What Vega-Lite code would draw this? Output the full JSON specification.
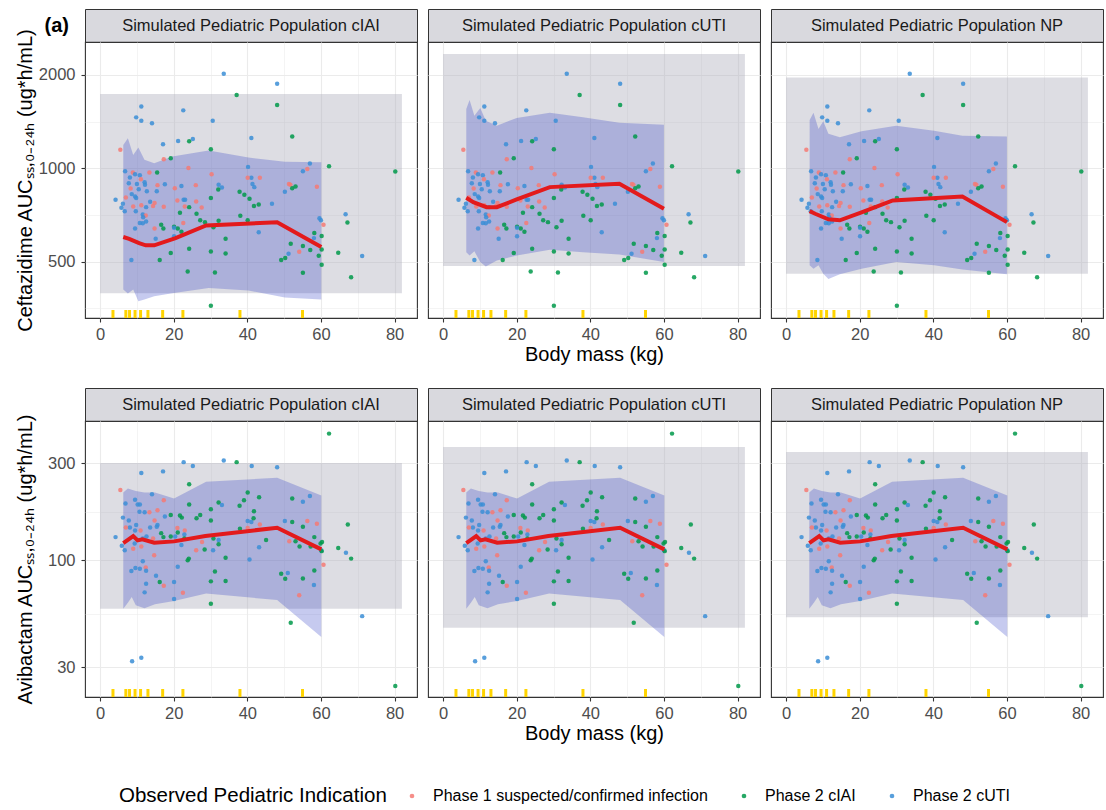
{
"$schema": "https://vega.github.io/schema/vega-lite/v6.json",
"padding": {"left": 14, "top": 8, "right": 0, "bottom": 0},
"background": "white",
"datasets": {
"rectC": [{"pop":"cIAI","x0":0,"x1":82,"lo":395,"hi":1735},{"pop":"cUTI","x0":0,"x1":82,"lo":484,"hi":2335},{"pop":"NP","x0":0,"x1":82,"lo":457,"hi":1963}],
"rectA": [{"pop":"cIAI","x0":0,"x1":82,"lo":57.9,"hi":300},{"pop":"cUTI","x0":0,"x1":82,"lo":46.8,"hi":359},{"pop":"NP","x0":0,"x1":82,"lo":52.7,"hi":340}],
"bandC": [
{"pop":"cIAI","kg":6.3,"lo":406,"hi":1189},{"pop":"cIAI","kg":7.55,"lo":394,"hi":1249},{"pop":"cIAI","kg":9.0,"lo":406,"hi":1104},{"pop":"cIAI","kg":10.4,"lo":372,"hi":1166},{"pop":"cIAI","kg":12.05,"lo":377,"hi":1064},{"pop":"cIAI","kg":14.7,"lo":386,"hi":1038},{"pop":"cIAI","kg":19.6,"lo":395,"hi":1090},{"pop":"cIAI","kg":29.5,"lo":411,"hi":1140},{"pop":"cIAI","kg":40.3,"lo":403,"hi":1082},{"pop":"cIAI","kg":50.2,"lo":383,"hi":1050},{"pop":"cIAI","kg":60.1,"lo":377,"hi":1045},
{"pop":"cUTI","kg":6.3,"lo":536,"hi":1553},{"pop":"cUTI","kg":7.2,"lo":523,"hi":1660},{"pop":"cUTI","kg":8.5,"lo":540,"hi":1478},{"pop":"cUTI","kg":10.1,"lo":498,"hi":1565},{"pop":"cUTI","kg":11.6,"lo":482,"hi":1424},{"pop":"cUTI","kg":14.6,"lo":504,"hi":1372},{"pop":"cUTI","kg":20.0,"lo":523,"hi":1453},{"pop":"cUTI","kg":29.0,"lo":546,"hi":1511},{"pop":"cUTI","kg":38.0,"lo":536,"hi":1460},{"pop":"cUTI","kg":47.9,"lo":527,"hi":1403},{"pop":"cUTI","kg":60.0,"lo":498,"hi":1382},
{"pop":"NP","kg":6.4,"lo":486,"hi":1432},{"pop":"NP","kg":7.45,"lo":474,"hi":1511},{"pop":"NP","kg":8.8,"lo":486,"hi":1339},{"pop":"NP","kg":10.1,"lo":457,"hi":1417},{"pop":"NP","kg":11.5,"lo":439,"hi":1291},{"pop":"NP","kg":14.6,"lo":455,"hi":1258},{"pop":"NP","kg":20.5,"lo":474,"hi":1316},{"pop":"NP","kg":29.9,"lo":498,"hi":1372},{"pop":"NP","kg":40.2,"lo":486,"hi":1322},{"pop":"NP","kg":47.9,"lo":471,"hi":1274},{"pop":"NP","kg":60.0,"lo":455,"hi":1265}],
"medC": [
{"pop":"cIAI","kg":6.3,"med":600},{"pop":"cIAI","kg":7.9,"med":592},{"pop":"cIAI","kg":10.6,"med":573},{"pop":"cIAI","kg":12.4,"med":564},{"pop":"cIAI","kg":14.7,"med":564},{"pop":"cIAI","kg":20.5,"med":595},{"pop":"cIAI","kg":28.8,"med":654},{"pop":"cIAI","kg":48.1,"med":669},{"pop":"cIAI","kg":60.1,"med":557},
{"pop":"cUTI","kg":6.3,"med":803},{"pop":"cUTI","kg":8.2,"med":777},{"pop":"cUTI","kg":11.8,"med":749},{"pop":"cUTI","kg":14.6,"med":749},{"pop":"cUTI","kg":20.0,"med":793},{"pop":"cUTI","kg":29.0,"med":869},{"pop":"cUTI","kg":47.9,"med":891},{"pop":"cUTI","kg":60.0,"med":740},
{"pop":"NP","kg":6.4,"med":727},{"pop":"NP","kg":7.9,"med":713},{"pop":"NP","kg":11.5,"med":684},{"pop":"NP","kg":14.6,"med":679},{"pop":"NP","kg":20.5,"med":721},{"pop":"NP","kg":29.0,"med":787},{"pop":"NP","kg":47.9,"med":811},{"pop":"NP","kg":60.0,"med":670}],
"bandA": [{"kg":6.3,"lo":57.9,"hi":215},{"kg":7.55,"lo":62.0,"hi":225},{"kg":8.6,"lo":66.1,"hi":222},{"kg":9.7,"lo":60.2,"hi":219},{"kg":12.05,"lo":58.2,"hi":215},{"kg":14.9,"lo":60.9,"hi":215},{"kg":20.1,"lo":63.2,"hi":201},{"kg":28.8,"lo":68.9,"hi":243},{"kg":48.1,"lo":63.9,"hi":254},{"kg":60.1,"lo":42.1,"hi":208}],
"medA": [{"kg":6.3,"med":121.6},{"kg":9.0,"med":131.6},{"kg":10.2,"med":125.3},{"kg":11.5,"med":126.7},{"kg":14.7,"med":122.1},{"kg":20.1,"med":123.9},{"kg":28.6,"med":131.6},{"kg":48.1,"med":144.6},{"kg":60.1,"med":113.2}],
"rug": [{"kg":3.5},{"kg":7},{"kg":8},{"kg":9.5},{"kg":11},{"kg":13},{"kg":17},{"kg":22.5},{"kg":38},{"kg":55}],
"obsC": [
{"kg":33.6,"auc":2017,"ind":"Phase 2 cUTI"},{"kg":48.1,"auc":1873,"ind":"Phase 2 cUTI"},{"kg":37.1,"auc":1722,"ind":"Phase 2 cIAI"},{"kg":48.1,"auc":1599,"ind":"Phase 2 cIAI"},{"kg":11.2,"auc":1583,"ind":"Phase 2 cUTI"},{"kg":22.6,"auc":1537,"ind":"Phase 2 cUTI"},{"kg":9.8,"auc":1459,"ind":"Phase 2 cUTI"},{"kg":11.2,"auc":1424,"ind":"Phase 2 cUTI"},{"kg":14.1,"auc":1396,"ind":"Phase 2 cUTI"},{"kg":30.6,"auc":1424,"ind":"Phase 2 cUTI"},
{"kg":52.2,"auc":1265,"ind":"Phase 2 cIAI"},{"kg":41.1,"auc":1252,"ind":"Phase 2 cUTI"},{"kg":21.2,"auc":1225,"ind":"Phase 2 cUTI"},{"kg":24.2,"auc":1222,"ind":"Phase 2 cIAI"},{"kg":25.2,"auc":1243,"ind":"Phase 2 cUTI"},{"kg":17.1,"auc":1195,"ind":"Phase 2 cUTI"},{"kg":5.5,"auc":1148,"ind":"Phase 1 suspected/confirmed infection"},{"kg":30.1,"auc":1151,"ind":"Phase 2 cIAI"},{"kg":19.2,"auc":1077,"ind":"Phase 2 cIAI"},{"kg":17.3,"auc":1069,"ind":"Phase 1 suspected/confirmed infection"},
{"kg":57.0,"auc":1035,"ind":"Phase 2 cUTI"},{"kg":62.2,"auc":1015,"ind":"Phase 2 cIAI"},{"kg":40.2,"auc":1010,"ind":"Phase 2 cUTI"},{"kg":56.3,"auc":995,"ind":"Phase 1 suspected/confirmed infection"},{"kg":55.1,"auc":978,"ind":"Phase 2 cUTI"},{"kg":80.2,"auc":976,"ind":"Phase 2 cIAI"},{"kg":6.8,"auc":978,"ind":"Phase 2 cUTI"},{"kg":8.9,"auc":968,"ind":"Phase 1 suspected/confirmed infection"},{"kg":9.5,"auc":957,"ind":"Phase 2 cUTI"},{"kg":10.8,"auc":949,"ind":"Phase 2 cUTI"},
{"kg":13.4,"auc":968,"ind":"Phase 1 suspected/confirmed infection"},{"kg":15.5,"auc":968,"ind":"Phase 2 cIAI"},{"kg":24.0,"auc":1002,"ind":"Phase 1 suspected/confirmed infection"},{"kg":30.3,"auc":957,"ind":"Phase 1 suspected/confirmed infection"},{"kg":8.1,"auc":933,"ind":"Phase 2 cUTI"},{"kg":11.1,"auc":922,"ind":"Phase 1 suspected/confirmed infection"},{"kg":41.1,"auc":931,"ind":"Phase 2 cUTI"},{"kg":40.1,"auc":931,"ind":"Phase 1 suspected/confirmed infection"},{"kg":43.4,"auc":931,"ind":"Phase 1 suspected/confirmed infection"},{"kg":7.8,"auc":895,"ind":"Phase 2 cUTI"},
{"kg":10.0,"auc":890,"ind":"Phase 2 cUTI"},{"kg":12.1,"auc":901,"ind":"Phase 2 cUTI"},{"kg":12.2,"auc":884,"ind":"Phase 2 cUTI"},{"kg":15.6,"auc":882,"ind":"Phase 1 suspected/confirmed infection"},{"kg":17.6,"auc":888,"ind":"Phase 2 cUTI"},{"kg":22.1,"auc":877,"ind":"Phase 2 cUTI"},{"kg":26.0,"auc":882,"ind":"Phase 1 suspected/confirmed infection"},{"kg":32.2,"auc":884,"ind":"Phase 2 cUTI"},{"kg":33.1,"auc":866,"ind":"Phase 2 cUTI"},{"kg":41.4,"auc":890,"ind":"Phase 2 cUTI"},
{"kg":41.9,"auc":869,"ind":"Phase 2 cUTI"},{"kg":51.3,"auc":890,"ind":"Phase 1 suspected/confirmed infection"},{"kg":51.7,"auc":884,"ind":"Phase 1 suspected/confirmed infection"},{"kg":52.2,"auc":862,"ind":"Phase 2 cIAI"},{"kg":53.1,"auc":873,"ind":"Phase 2 cIAI"},{"kg":58.9,"auc":871,"ind":"Phase 1 suspected/confirmed infection"},{"kg":8.3,"auc":860,"ind":"Phase 1 suspected/confirmed infection"},{"kg":10.5,"auc":856,"ind":"Phase 2 cUTI"},{"kg":12.7,"auc":843,"ind":"Phase 2 cUTI"},{"kg":15.4,"auc":843,"ind":"Phase 2 cUTI"},
{"kg":20.3,"auc":862,"ind":"Phase 1 suspected/confirmed infection"},{"kg":32.1,"auc":854,"ind":"Phase 2 cIAI"},{"kg":37.9,"auc":839,"ind":"Phase 2 cIAI"},{"kg":39.2,"auc":821,"ind":"Phase 2 cIAI"},{"kg":40.6,"auc":797,"ind":"Phase 2 cIAI"},{"kg":50.2,"auc":839,"ind":"Phase 2 cUTI"},{"kg":8.6,"auc":825,"ind":"Phase 2 cUTI"},{"kg":9.5,"auc":811,"ind":"Phase 2 cUTI"},{"kg":9.8,"auc":801,"ind":"Phase 2 cUTI"},{"kg":7.0,"auc":805,"ind":"Phase 1 suspected/confirmed infection"},
{"kg":4.2,"auc":791,"ind":"Phase 2 cUTI"},{"kg":13.6,"auc":779,"ind":"Phase 2 cUTI"},{"kg":14.8,"auc":773,"ind":"Phase 1 suspected/confirmed infection"},{"kg":21.0,"auc":787,"ind":"Phase 1 suspected/confirmed infection"},{"kg":22.7,"auc":791,"ind":"Phase 2 cUTI"},{"kg":23.1,"auc":791,"ind":"Phase 2 cUTI"},{"kg":26.1,"auc":781,"ind":"Phase 1 suspected/confirmed infection"},{"kg":30.1,"auc":801,"ind":"Phase 2 cIAI"},{"kg":6.2,"auc":768,"ind":"Phase 2 cUTI"},{"kg":9.0,"auc":753,"ind":"Phase 1 suspected/confirmed infection"},
{"kg":11.2,"auc":760,"ind":"Phase 1 suspected/confirmed infection"},{"kg":12.5,"auc":749,"ind":"Phase 2 cUTI"},{"kg":14.4,"auc":755,"ind":"Phase 1 suspected/confirmed infection"},{"kg":17.3,"auc":751,"ind":"Phase 1 suspected/confirmed infection"},{"kg":23.0,"auc":753,"ind":"Phase 1 suspected/confirmed infection"},{"kg":24.2,"auc":749,"ind":"Phase 2 cIAI"},{"kg":27.6,"auc":747,"ind":"Phase 1 suspected/confirmed infection"},{"kg":5.8,"auc":746,"ind":"Phase 2 cUTI"},{"kg":6.7,"auc":727,"ind":"Phase 2 cUTI"},{"kg":9.7,"auc":727,"ind":"Phase 2 cUTI"},
{"kg":21.7,"auc":718,"ind":"Phase 2 cIAI"},{"kg":26.2,"auc":713,"ind":"Phase 2 cIAI"},{"kg":38.1,"auc":702,"ind":"Phase 2 cIAI"},{"kg":41.8,"auc":755,"ind":"Phase 2 cIAI"},{"kg":43.1,"auc":764,"ind":"Phase 2 cIAI"},{"kg":46.7,"auc":768,"ind":"Phase 2 cUTI"},{"kg":11.6,"auc":709,"ind":"Phase 2 cUTI"},{"kg":12.4,"auc":704,"ind":"Phase 1 suspected/confirmed infection"},{"kg":11.7,"auc":695,"ind":"Phase 2 cUTI"},{"kg":59.6,"auc":690,"ind":"Phase 2 cUTI"},
{"kg":60.0,"auc":679,"ind":"Phase 2 cUTI"},{"kg":32.2,"auc":677,"ind":"Phase 2 cIAI"},{"kg":28.5,"auc":670,"ind":"Phase 2 cIAI"},{"kg":27.2,"auc":679,"ind":"Phase 2 cIAI"},{"kg":40.1,"auc":679,"ind":"Phase 2 cIAI"},{"kg":66.7,"auc":711,"ind":"Phase 2 cUTI"},{"kg":67.2,"auc":668,"ind":"Phase 2 cIAI"},{"kg":60.7,"auc":657,"ind":"Phase 1 suspected/confirmed infection"},{"kg":12.5,"auc":673,"ind":"Phase 2 cUTI"},{"kg":11.6,"auc":665,"ind":"Phase 2 cUTI"},
{"kg":10.8,"auc":666,"ind":"Phase 2 cUTI"},{"kg":22.6,"auc":666,"ind":"Phase 1 suspected/confirmed infection"},{"kg":16.6,"auc":657,"ind":"Phase 2 cIAI"},{"kg":17.2,"auc":639,"ind":"Phase 2 cIAI"},{"kg":20.1,"auc":647,"ind":"Phase 2 cIAI"},{"kg":21.1,"auc":639,"ind":"Phase 2 cIAI"},{"kg":20.1,"auc":643,"ind":"Phase 2 cUTI"},{"kg":30.8,"auc":645,"ind":"Phase 2 cIAI"},{"kg":9.5,"auc":639,"ind":"Phase 2 cUTI"},{"kg":14.8,"auc":639,"ind":"Phase 1 suspected/confirmed infection"},
{"kg":22.1,"auc":624,"ind":"Phase 2 cIAI"},{"kg":43.1,"auc":621,"ind":"Phase 2 cUTI"},{"kg":58.2,"auc":618,"ind":"Phase 2 cIAI"},{"kg":60.2,"auc":604,"ind":"Phase 2 cIAI"},{"kg":58.1,"auc":595,"ind":"Phase 2 cUTI"},{"kg":34.1,"auc":592,"ind":"Phase 2 cIAI"},{"kg":15.1,"auc":592,"ind":"Phase 2 cUTI"},{"kg":20.1,"auc":603,"ind":"Phase 2 cUTI"},{"kg":51.8,"auc":571,"ind":"Phase 2 cIAI"},{"kg":55.1,"auc":561,"ind":"Phase 2 cIAI"},
{"kg":57.1,"auc":545,"ind":"Phase 2 cIAI"},{"kg":60.2,"auc":547,"ind":"Phase 2 cIAI"},{"kg":54.1,"auc":538,"ind":"Phase 1 suspected/confirmed infection"},{"kg":51.2,"auc":530,"ind":"Phase 2 cUTI"},{"kg":24.2,"auc":550,"ind":"Phase 2 cIAI"},{"kg":30.1,"auc":539,"ind":"Phase 2 cIAI"},{"kg":34.1,"auc":531,"ind":"Phase 2 cIAI"},{"kg":19.2,"auc":533,"ind":"Phase 2 cIAI"},{"kg":64.7,"auc":534,"ind":"Phase 2 cIAI"},{"kg":59.4,"auc":522,"ind":"Phase 2 cIAI"},
{"kg":71.2,"auc":521,"ind":"Phase 2 cUTI"},{"kg":8.5,"auc":506,"ind":"Phase 2 cUTI"},{"kg":16.2,"auc":506,"ind":"Phase 2 cIAI"},{"kg":49.2,"auc":506,"ind":"Phase 2 cIAI"},{"kg":50.3,"auc":513,"ind":"Phase 2 cIAI"},{"kg":60.2,"auc":488,"ind":"Phase 2 cIAI"},{"kg":23.8,"auc":464,"ind":"Phase 2 cIAI"},{"kg":31.2,"auc":461,"ind":"Phase 2 cIAI"},{"kg":55.1,"auc":460,"ind":"Phase 2 cIAI"},{"kg":68.2,"auc":445,"ind":"Phase 2 cIAI"},
{"kg":30.1,"auc":360,"ind":"Phase 2 cIAI"}],
"obsA": [
{"kg":62.2,"auc":418,"ind":"Phase 2 cIAI"},{"kg":22.7,"auc":303,"ind":"Phase 2 cUTI"},{"kg":33.6,"auc":309,"ind":"Phase 2 cUTI"},{"kg":37.1,"auc":303,"ind":"Phase 2 cIAI"},{"kg":25.2,"auc":290,"ind":"Phase 2 cUTI"},{"kg":41.2,"auc":290,"ind":"Phase 2 cUTI"},{"kg":48.1,"auc":286,"ind":"Phase 2 cUTI"},{"kg":11.2,"auc":268,"ind":"Phase 2 cUTI"},{"kg":17.1,"auc":273,"ind":"Phase 2 cUTI"},{"kg":24.2,"auc":236,"ind":"Phase 2 cIAI"},
{"kg":5.5,"auc":221,"ind":"Phase 1 suspected/confirmed infection"},{"kg":40.1,"auc":215,"ind":"Phase 2 cIAI"},{"kg":14.1,"auc":211,"ind":"Phase 2 cUTI"},{"kg":52.2,"auc":201,"ind":"Phase 2 cIAI"},{"kg":43.2,"auc":204,"ind":"Phase 2 cIAI"},{"kg":57.0,"auc":207,"ind":"Phase 2 cUTI"},{"kg":17.3,"auc":197,"ind":"Phase 1 suspected/confirmed infection"},{"kg":9.5,"auc":198,"ind":"Phase 2 cUTI"},{"kg":6.9,"auc":190,"ind":"Phase 2 cUTI"},{"kg":10.2,"auc":188,"ind":"Phase 2 cUTI"},
{"kg":10.8,"auc":188,"ind":"Phase 2 cUTI"},{"kg":24.2,"auc":188,"ind":"Phase 2 cIAI"},{"kg":32.2,"auc":192,"ind":"Phase 2 cIAI"},{"kg":33.1,"auc":187,"ind":"Phase 2 cUTI"},{"kg":55.1,"auc":194,"ind":"Phase 2 cUTI"},{"kg":39.1,"auc":197,"ind":"Phase 2 cIAI"},{"kg":37.9,"auc":185,"ind":"Phase 2 cIAI"},{"kg":15.6,"auc":176,"ind":"Phase 1 suspected/confirmed infection"},{"kg":10.7,"auc":173,"ind":"Phase 2 cUTI"},{"kg":12.1,"auc":172,"ind":"Phase 2 cUTI"},
{"kg":13.4,"auc":172,"ind":"Phase 1 suspected/confirmed infection"},{"kg":30.1,"auc":178,"ind":"Phase 2 cIAI"},{"kg":41.8,"auc":174,"ind":"Phase 2 cIAI"},{"kg":19.2,"auc":167,"ind":"Phase 2 cIAI"},{"kg":21.7,"auc":166,"ind":"Phase 2 cIAI"},{"kg":22.2,"auc":162,"ind":"Phase 2 cIAI"},{"kg":17.6,"auc":164,"ind":"Phase 2 cUTI"},{"kg":27.2,"auc":167,"ind":"Phase 2 cIAI"},{"kg":26.2,"auc":161,"ind":"Phase 2 cIAI"},{"kg":6.2,"auc":162,"ind":"Phase 2 cUTI"},
{"kg":7.8,"auc":157,"ind":"Phase 2 cUTI"},{"kg":14.8,"auc":157,"ind":"Phase 1 suspected/confirmed infection"},{"kg":50.2,"auc":156,"ind":"Phase 2 cUTI"},{"kg":52.2,"auc":154,"ind":"Phase 2 cIAI"},{"kg":56.3,"auc":156,"ind":"Phase 1 suspected/confirmed infection"},{"kg":40.1,"auc":156,"ind":"Phase 2 cUTI"},{"kg":41.1,"auc":154,"ind":"Phase 2 cUTI"},{"kg":41.7,"auc":161,"ind":"Phase 2 cIAI"},{"kg":30.1,"auc":157,"ind":"Phase 2 cIAI"},{"kg":43.4,"auc":150,"ind":"Phase 1 suspected/confirmed infection"},
{"kg":58.9,"auc":151,"ind":"Phase 1 suspected/confirmed infection"},{"kg":9.8,"auc":149,"ind":"Phase 2 cUTI"},{"kg":8.1,"auc":145,"ind":"Phase 2 cUTI"},{"kg":7.0,"auc":145,"ind":"Phase 1 suspected/confirmed infection"},{"kg":15.6,"auc":149,"ind":"Phase 2 cUTI"},{"kg":13.6,"auc":145,"ind":"Phase 2 cUTI"},{"kg":15.4,"auc":146,"ind":"Phase 2 cUTI"},{"kg":11.0,"auc":140,"ind":"Phase 1 suspected/confirmed infection"},{"kg":16.6,"auc":136,"ind":"Phase 2 cIAI"},{"kg":17.2,"auc":130,"ind":"Phase 2 cIAI"},
{"kg":19.2,"auc":131,"ind":"Phase 2 cIAI"},{"kg":21.0,"auc":144,"ind":"Phase 1 suspected/confirmed infection"},{"kg":21.1,"auc":137,"ind":"Phase 2 cIAI"},{"kg":23.0,"auc":140,"ind":"Phase 1 suspected/confirmed infection"},{"kg":9.5,"auc":140,"ind":"Phase 2 cUTI"},{"kg":38.0,"auc":143,"ind":"Phase 2 cIAI"},{"kg":40.1,"auc":144,"ind":"Phase 1 suspected/confirmed infection"},{"kg":55.1,"auc":146,"ind":"Phase 2 cIAI"},{"kg":67.3,"auc":150,"ind":"Phase 2 cIAI"},{"kg":4.2,"auc":130,"ind":"Phase 2 cUTI"},
{"kg":12.6,"auc":131,"ind":"Phase 2 cUTI"},{"kg":11.6,"auc":128,"ind":"Phase 2 cUTI"},{"kg":14.4,"auc":128,"ind":"Phase 1 suspected/confirmed infection"},{"kg":20.4,"auc":131,"ind":"Phase 2 cUTI"},{"kg":22.9,"auc":134,"ind":"Phase 2 cUTI"},{"kg":22.9,"auc":128,"ind":"Phase 2 cIAI"},{"kg":27.7,"auc":123,"ind":"Phase 1 suspected/confirmed infection"},{"kg":30.8,"auc":128,"ind":"Phase 2 cIAI"},{"kg":32.2,"auc":126,"ind":"Phase 2 cUTI"},{"kg":45.1,"auc":126,"ind":"Phase 2 cIAI"},
{"kg":53.1,"auc":124,"ind":"Phase 2 cIAI"},{"kg":51.4,"auc":124,"ind":"Phase 1 suspected/confirmed infection"},{"kg":58.2,"auc":130,"ind":"Phase 2 cIAI"},{"kg":60.3,"auc":123,"ind":"Phase 2 cIAI"},{"kg":59.9,"auc":121,"ind":"Phase 2 cIAI"},{"kg":5.9,"auc":118,"ind":"Phase 2 cUTI"},{"kg":9.0,"auc":114,"ind":"Phase 1 suspected/confirmed infection"},{"kg":11.2,"auc":117,"ind":"Phase 1 suspected/confirmed infection"},{"kg":9.4,"auc":121,"ind":"Phase 2 cUTI"},{"kg":22.1,"auc":119,"ind":"Phase 2 cUTI"},
{"kg":26.1,"auc":112,"ind":"Phase 1 suspected/confirmed infection"},{"kg":28.4,"auc":113,"ind":"Phase 2 cIAI"},{"kg":30.7,"auc":112,"ind":"Phase 2 cUTI"},{"kg":32.2,"auc":120,"ind":"Phase 2 cIAI"},{"kg":43.2,"auc":116,"ind":"Phase 2 cUTI"},{"kg":54.2,"auc":117,"ind":"Phase 2 cIAI"},{"kg":57.2,"auc":117,"ind":"Phase 2 cIAI"},{"kg":64.7,"auc":115,"ind":"Phase 2 cIAI"},{"kg":66.8,"auc":109,"ind":"Phase 2 cUTI"},{"kg":68.2,"auc":102,"ind":"Phase 2 cIAI"},
{"kg":6.7,"auc":112,"ind":"Phase 2 cUTI"},{"kg":60.1,"auc":112,"ind":"Phase 2 cUTI"},{"kg":60.2,"auc":111,"ind":"Phase 2 cIAI"},{"kg":14.7,"auc":106,"ind":"Phase 1 suspected/confirmed infection"},{"kg":34.1,"auc":103,"ind":"Phase 2 cIAI"},{"kg":23.8,"auc":100,"ind":"Phase 2 cIAI"},{"kg":24.1,"auc":102,"ind":"Phase 2 cIAI"},{"kg":40.6,"auc":101,"ind":"Phase 2 cUTI"},{"kg":11.6,"auc":99,"ind":"Phase 2 cUTI"},{"kg":12.4,"auc":92.4,"ind":"Phase 1 suspected/confirmed infection"},
{"kg":8.5,"auc":88.6,"ind":"Phase 2 cUTI"},{"kg":9.6,"auc":91.7,"ind":"Phase 2 cUTI"},{"kg":10.8,"auc":91.0,"ind":"Phase 2 cUTI"},{"kg":12.5,"auc":89.0,"ind":"Phase 2 cUTI"},{"kg":21.1,"auc":93.1,"ind":"Phase 2 cUTI"},{"kg":31.2,"auc":88.3,"ind":"Phase 2 cIAI"},{"kg":60.7,"auc":95.2,"ind":"Phase 1 suspected/confirmed infection"},{"kg":58.2,"auc":89.3,"ind":"Phase 2 cIAI"},{"kg":49.2,"auc":86.0,"ind":"Phase 2 cIAI"},{"kg":51.0,"auc":86.7,"ind":"Phase 2 cUTI"},
{"kg":50.3,"auc":81.3,"ind":"Phase 2 cIAI"},{"kg":55.1,"auc":81.6,"ind":"Phase 2 cIAI"},{"kg":15.2,"auc":84.1,"ind":"Phase 2 cUTI"},{"kg":16.2,"auc":78.3,"ind":"Phase 2 cIAI"},{"kg":17.3,"auc":75.1,"ind":"Phase 1 suspected/confirmed infection"},{"kg":12.5,"auc":76.8,"ind":"Phase 2 cUTI"},{"kg":20.1,"auc":78.3,"ind":"Phase 2 cUTI"},{"kg":30.1,"auc":78.9,"ind":"Phase 2 cIAI"},{"kg":34.1,"auc":79.2,"ind":"Phase 2 cIAI"},{"kg":58.1,"auc":75.7,"ind":"Phase 2 cUTI"},
{"kg":12.1,"auc":69.7,"ind":"Phase 2 cUTI"},{"kg":22.5,"auc":69.4,"ind":"Phase 1 suspected/confirmed infection"},{"kg":54.1,"auc":67.4,"ind":"Phase 1 suspected/confirmed infection"},{"kg":20.1,"auc":64.6,"ind":"Phase 2 cUTI"},{"kg":30.1,"auc":61.3,"ind":"Phase 2 cIAI"},{"kg":71.2,"auc":53.3,"ind":"Phase 2 cUTI"},{"kg":51.8,"auc":49.5,"ind":"Phase 2 cIAI"},{"kg":11.2,"auc":33.3,"ind":"Phase 2 cUTI"},{"kg":8.7,"auc":32.0,"ind":"Phase 2 cUTI"},{"kg":80.2,"auc":24.2,"ind":"Phase 2 cIAI"}]
},
"spacing": 21,
"vconcat": [
{
"columns": 3,
"bounds": "flush",
"spacing": {"row": 0, "column": 11},
"concat": [
{"width": 332, "height": 33, "view": {"fill": "#d9d9de", "stroke": "#333333"},
 "title": {"text": "(a)", "orient": "left", "angle": 0, "align": "left", "baseline": "middle", "anchor": "middle", "offset": 16, "fontSize": 20, "fontWeight": "bold", "color": "#000000"},
 "data": {"values": [{"label": "Simulated Pediatric Population cIAI"}]},
 "mark": {"type": "text", "fontSize": 16.5, "color": "#1a1a1a"},
 "encoding": {"text": {"field": "label"}}},
{"width": 332, "height": 33, "view": {"fill": "#d9d9de", "stroke": "#333333"},
 "data": {"values": [{"label": "Simulated Pediatric Population cUTI"}]},
 "mark": {"type": "text", "fontSize": 16.5, "color": "#1a1a1a"},
 "encoding": {"text": {"field": "label"}}},
{"width": 332, "height": 33, "view": {"fill": "#d9d9de", "stroke": "#333333"},
 "data": {"values": [{"label": "Simulated Pediatric Population NP"}]},
 "mark": {"type": "text", "fontSize": 16.5, "color": "#1a1a1a"},
 "encoding": {"text": {"field": "label"}}},
{"width": 332, "height": 276,
 "layer": [
  {"data": {"name": "rectC"}, "transform": [{"filter": "datum.pop === 'cIAI'"}],
   "mark": {"type": "rect", "color": "#a9abb8", "opacity": 0.4},
   "encoding": {
    "x": {"field": "x0", "type": "quantitative", "scale": {"domain": [-4.1, 86.1], "nice": false, "zero": false},
      "axis": {"values": [0,10,20,30,40,50,60,70,80], "labelExpr": "datum.value % 20 === 0 ? datum.label : ''", "title": null, "labelOverlap": false, "labelFlush": false,
        "gridWidth": {"condition": {"test": "datum.value % 20 === 0", "value": 1.1}, "value": 0.55},
        "tickOpacity": {"condition": {"test": "datum.value % 20 === 0", "value": 1}, "value": 0}}},
    "x2": {"field": "x1"},
    "y": {"field": "lo", "type": "quantitative", "scale": {"type": "log", "domain": [328.7, 2554], "nice": false},
      "axis": {"values": [353.6,500,707.1,1000,1414.2,2000], "format": "d", "labelExpr": "indexof([500,1000,2000], datum.value) >= 0 ? datum.label : ''", "title": "Ceftazidime AUCₛₛ,₀₋₂₄ₕ (ug*h/mL)", "minExtent": 46, "maxExtent": 46, "titlePadding": 4, "labelPadding": 6, "labelOverlap": false, "labelFlush": false,
        "gridWidth": {"condition": {"test": "indexof([500,1000,2000], datum.value) >= 0", "value": 1.1}, "value": 0.55},
        "tickOpacity": {"condition": {"test": "indexof([500,1000,2000], datum.value) >= 0", "value": 1}, "value": 0}}},
    "y2": {"field": "hi"}}},
  {"data": {"name": "bandC"}, "transform": [{"filter": "datum.pop === 'cIAI'"}],
   "mark": {"type": "area", "color": "#1a2ac0", "opacity": 0.25},
   "encoding": {"x": {"field": "kg", "type": "quantitative"}, "y": {"field": "lo", "type": "quantitative"}, "y2": {"field": "hi"}}},
  {"data": {"name": "obsC"},
   "mark": {"type": "point", "filled": true, "size": 20, "opacity": 0.85},
   "encoding": {"x": {"field": "kg", "type": "quantitative"}, "y": {"field": "auc", "type": "quantitative"},
    "color": {"field": "ind", "type": "nominal", "scale": {"domain": ["Phase 1 suspected/confirmed infection", "Phase 2 cIAI", "Phase 2 cUTI"], "range": ["#f47a74", "#00994a", "#3b8ed6"]},
      "legend": {"title": "Observed Pediatric Indication", "orient": "none", "legendX": 34, "legendY": 779, "direction": "horizontal", "titleOrient": "left"}}}},
  {"data": {"name": "medC"}, "transform": [{"filter": "datum.pop === 'cIAI'"}],
   "mark": {"type": "line", "color": "#e31a1c", "strokeWidth": 4},
   "encoding": {"x": {"field": "kg", "type": "quantitative"}, "y": {"field": "med", "type": "quantitative"}}},
  {"data": {"name": "rug"},
   "mark": {"type": "tick", "orient": "vertical", "color": "#ffd400", "thickness": 3, "size": 8, "opacity": 1},
   "encoding": {"x": {"field": "kg", "type": "quantitative"}, "y": {"value": "height"}, "yOffset": {"value": -4}}}
 ]},
{"width": 332, "height": 276,
 "layer": [
  {"data": {"name": "rectC"}, "transform": [{"filter": "datum.pop === 'cUTI'"}],
   "mark": {"type": "rect", "color": "#a9abb8", "opacity": 0.4},
   "encoding": {
    "x": {"field": "x0", "type": "quantitative", "scale": {"domain": [-4.1, 86.1], "nice": false, "zero": false},
      "axis": {"values": [0,10,20,30,40,50,60,70,80], "labelExpr": "datum.value % 20 === 0 ? datum.label : ''", "title": "Body mass (kg)", "labelOverlap": false, "labelFlush": false,
        "gridWidth": {"condition": {"test": "datum.value % 20 === 0", "value": 1.1}, "value": 0.55},
        "tickOpacity": {"condition": {"test": "datum.value % 20 === 0", "value": 1}, "value": 0}}},
    "x2": {"field": "x1"},
    "y": {"field": "lo", "type": "quantitative", "scale": {"type": "log", "domain": [328.7, 2554], "nice": false},
      "axis": {"values": [353.6,500,707.1,1000,1414.2,2000], "labels": false, "ticks": false, "title": null,
        "gridWidth": {"condition": {"test": "indexof([500,1000,2000], datum.value) >= 0", "value": 1.1}, "value": 0.55}}},
    "y2": {"field": "hi"}}},
  {"data": {"name": "bandC"}, "transform": [{"filter": "datum.pop === 'cUTI'"}],
   "mark": {"type": "area", "color": "#1a2ac0", "opacity": 0.25},
   "encoding": {"x": {"field": "kg", "type": "quantitative"}, "y": {"field": "lo", "type": "quantitative"}, "y2": {"field": "hi"}}},
  {"data": {"name": "obsC"},
   "mark": {"type": "point", "filled": true, "size": 20, "opacity": 0.85},
   "encoding": {"x": {"field": "kg", "type": "quantitative"}, "y": {"field": "auc", "type": "quantitative"},
    "color": {"field": "ind", "type": "nominal"}}},
  {"data": {"name": "medC"}, "transform": [{"filter": "datum.pop === 'cUTI'"}],
   "mark": {"type": "line", "color": "#e31a1c", "strokeWidth": 4},
   "encoding": {"x": {"field": "kg", "type": "quantitative"}, "y": {"field": "med", "type": "quantitative"}}},
  {"data": {"name": "rug"},
   "mark": {"type": "tick", "orient": "vertical", "color": "#ffd400", "thickness": 3, "size": 8, "opacity": 1},
   "encoding": {"x": {"field": "kg", "type": "quantitative"}, "y": {"value": "height"}, "yOffset": {"value": -4}}}
 ]},
{"width": 332, "height": 276,
 "layer": [
  {"data": {"name": "rectC"}, "transform": [{"filter": "datum.pop === 'NP'"}],
   "mark": {"type": "rect", "color": "#a9abb8", "opacity": 0.4},
   "encoding": {
    "x": {"field": "x0", "type": "quantitative", "scale": {"domain": [-4.1, 86.1], "nice": false, "zero": false},
      "axis": {"values": [0,10,20,30,40,50,60,70,80], "labelExpr": "datum.value % 20 === 0 ? datum.label : ''", "title": null, "labelOverlap": false, "labelFlush": false,
        "gridWidth": {"condition": {"test": "datum.value % 20 === 0", "value": 1.1}, "value": 0.55},
        "tickOpacity": {"condition": {"test": "datum.value % 20 === 0", "value": 1}, "value": 0}}},
    "x2": {"field": "x1"},
    "y": {"field": "lo", "type": "quantitative", "scale": {"type": "log", "domain": [328.7, 2554], "nice": false},
      "axis": {"values": [353.6,500,707.1,1000,1414.2,2000], "labels": false, "ticks": false, "title": null,
        "gridWidth": {"condition": {"test": "indexof([500,1000,2000], datum.value) >= 0", "value": 1.1}, "value": 0.55}}},
    "y2": {"field": "hi"}}},
  {"data": {"name": "bandC"}, "transform": [{"filter": "datum.pop === 'NP'"}],
   "mark": {"type": "area", "color": "#1a2ac0", "opacity": 0.25},
   "encoding": {"x": {"field": "kg", "type": "quantitative"}, "y": {"field": "lo", "type": "quantitative"}, "y2": {"field": "hi"}}},
  {"data": {"name": "obsC"},
   "mark": {"type": "point", "filled": true, "size": 20, "opacity": 0.85},
   "encoding": {"x": {"field": "kg", "type": "quantitative"}, "y": {"field": "auc", "type": "quantitative"},
    "color": {"field": "ind", "type": "nominal"}}},
  {"data": {"name": "medC"}, "transform": [{"filter": "datum.pop === 'NP'"}],
   "mark": {"type": "line", "color": "#e31a1c", "strokeWidth": 4},
   "encoding": {"x": {"field": "kg", "type": "quantitative"}, "y": {"field": "med", "type": "quantitative"}}},
  {"data": {"name": "rug"},
   "mark": {"type": "tick", "orient": "vertical", "color": "#ffd400", "thickness": 3, "size": 8, "opacity": 1},
   "encoding": {"x": {"field": "kg", "type": "quantitative"}, "y": {"value": "height"}, "yOffset": {"value": -4}}}
 ]}
]},
{
"columns": 3,
"bounds": "flush",
"spacing": {"row": 0, "column": 11},
"concat": [
{"width": 332, "height": 33, "view": {"fill": "#d9d9de", "stroke": "#333333"},
 "data": {"values": [{"label": "Simulated Pediatric Population cIAI"}]},
 "mark": {"type": "text", "fontSize": 16.5, "color": "#1a1a1a"},
 "encoding": {"text": {"field": "label"}}},
{"width": 332, "height": 33, "view": {"fill": "#d9d9de", "stroke": "#333333"},
 "data": {"values": [{"label": "Simulated Pediatric Population cUTI"}]},
 "mark": {"type": "text", "fontSize": 16.5, "color": "#1a1a1a"},
 "encoding": {"text": {"field": "label"}}},
{"width": 332, "height": 33, "view": {"fill": "#d9d9de", "stroke": "#333333"},
 "data": {"values": [{"label": "Simulated Pediatric Population NP"}]},
 "mark": {"type": "text", "fontSize": 16.5, "color": "#1a1a1a"},
 "encoding": {"text": {"field": "label"}}},
{"width": 332, "height": 276,
 "layer": [
  {"data": {"name": "rectA"}, "transform": [{"filter": "datum.pop === 'cIAI'"}],
   "mark": {"type": "rect", "color": "#a9abb8", "opacity": 0.4},
   "encoding": {
    "x": {"field": "x0", "type": "quantitative", "scale": {"domain": [-4.1, 86.1], "nice": false, "zero": false},
      "axis": {"values": [0,10,20,30,40,50,60,70,80], "labelExpr": "datum.value % 20 === 0 ? datum.label : ''", "title": null, "labelOverlap": false, "labelFlush": false,
        "gridWidth": {"condition": {"test": "datum.value % 20 === 0", "value": 1.1}, "value": 0.55},
        "tickOpacity": {"condition": {"test": "datum.value % 20 === 0", "value": 1}, "value": 0}}},
    "x2": {"field": "x1"},
    "y": {"field": "lo", "type": "quantitative", "scale": {"type": "log", "domain": [21.4, 482], "nice": false},
      "axis": {"values": [30,54.77,100,173.2,300], "format": "d", "labelExpr": "indexof([30,100,300], datum.value) >= 0 ? datum.label : ''", "title": "Avibactam AUCₛₛ,₀₋₂₄ₕ (ug*h/mL)", "minExtent": 46, "maxExtent": 46, "titlePadding": 4, "labelPadding": 6, "labelOverlap": false, "labelFlush": false,
        "gridWidth": {"condition": {"test": "indexof([30,100,300], datum.value) >= 0", "value": 1.1}, "value": 0.55},
        "tickOpacity": {"condition": {"test": "indexof([30,100,300], datum.value) >= 0", "value": 1}, "value": 0}}},
    "y2": {"field": "hi"}}},
  {"data": {"name": "bandA"},
   "mark": {"type": "area", "color": "#1a2ac0", "opacity": 0.25},
   "encoding": {"x": {"field": "kg", "type": "quantitative"}, "y": {"field": "lo", "type": "quantitative"}, "y2": {"field": "hi"}}},
  {"data": {"name": "obsA"},
   "mark": {"type": "point", "filled": true, "size": 20, "opacity": 0.85},
   "encoding": {"x": {"field": "kg", "type": "quantitative"}, "y": {"field": "auc", "type": "quantitative"},
    "color": {"field": "ind", "type": "nominal"}}},
  {"data": {"name": "medA"},
   "mark": {"type": "line", "color": "#e31a1c", "strokeWidth": 4},
   "encoding": {"x": {"field": "kg", "type": "quantitative"}, "y": {"field": "med", "type": "quantitative"}}},
  {"data": {"name": "rug"},
   "mark": {"type": "tick", "orient": "vertical", "color": "#ffd400", "thickness": 3, "size": 8, "opacity": 1},
   "encoding": {"x": {"field": "kg", "type": "quantitative"}, "y": {"value": "height"}, "yOffset": {"value": -4}}}
 ]},
{"width": 332, "height": 276,
 "layer": [
  {"data": {"name": "rectA"}, "transform": [{"filter": "datum.pop === 'cUTI'"}],
   "mark": {"type": "rect", "color": "#a9abb8", "opacity": 0.4},
   "encoding": {
    "x": {"field": "x0", "type": "quantitative", "scale": {"domain": [-4.1, 86.1], "nice": false, "zero": false},
      "axis": {"values": [0,10,20,30,40,50,60,70,80], "labelExpr": "datum.value % 20 === 0 ? datum.label : ''", "title": "Body mass (kg)", "labelOverlap": false, "labelFlush": false,
        "gridWidth": {"condition": {"test": "datum.value % 20 === 0", "value": 1.1}, "value": 0.55},
        "tickOpacity": {"condition": {"test": "datum.value % 20 === 0", "value": 1}, "value": 0}}},
    "x2": {"field": "x1"},
    "y": {"field": "lo", "type": "quantitative", "scale": {"type": "log", "domain": [21.4, 482], "nice": false},
      "axis": {"values": [30,54.77,100,173.2,300], "labels": false, "ticks": false, "title": null,
        "gridWidth": {"condition": {"test": "indexof([30,100,300], datum.value) >= 0", "value": 1.1}, "value": 0.55}}},
    "y2": {"field": "hi"}}},
  {"data": {"name": "bandA"},
   "mark": {"type": "area", "color": "#1a2ac0", "opacity": 0.25},
   "encoding": {"x": {"field": "kg", "type": "quantitative"}, "y": {"field": "lo", "type": "quantitative"}, "y2": {"field": "hi"}}},
  {"data": {"name": "obsA"},
   "mark": {"type": "point", "filled": true, "size": 20, "opacity": 0.85},
   "encoding": {"x": {"field": "kg", "type": "quantitative"}, "y": {"field": "auc", "type": "quantitative"},
    "color": {"field": "ind", "type": "nominal"}}},
  {"data": {"name": "medA"},
   "mark": {"type": "line", "color": "#e31a1c", "strokeWidth": 4},
   "encoding": {"x": {"field": "kg", "type": "quantitative"}, "y": {"field": "med", "type": "quantitative"}}},
  {"data": {"name": "rug"},
   "mark": {"type": "tick", "orient": "vertical", "color": "#ffd400", "thickness": 3, "size": 8, "opacity": 1},
   "encoding": {"x": {"field": "kg", "type": "quantitative"}, "y": {"value": "height"}, "yOffset": {"value": -4}}}
 ]},
{"width": 332, "height": 276,
 "layer": [
  {"data": {"name": "rectA"}, "transform": [{"filter": "datum.pop === 'NP'"}],
   "mark": {"type": "rect", "color": "#a9abb8", "opacity": 0.4},
   "encoding": {
    "x": {"field": "x0", "type": "quantitative", "scale": {"domain": [-4.1, 86.1], "nice": false, "zero": false},
      "axis": {"values": [0,10,20,30,40,50,60,70,80], "labelExpr": "datum.value % 20 === 0 ? datum.label : ''", "title": null, "labelOverlap": false, "labelFlush": false,
        "gridWidth": {"condition": {"test": "datum.value % 20 === 0", "value": 1.1}, "value": 0.55},
        "tickOpacity": {"condition": {"test": "datum.value % 20 === 0", "value": 1}, "value": 0}}},
    "x2": {"field": "x1"},
    "y": {"field": "lo", "type": "quantitative", "scale": {"type": "log", "domain": [21.4, 482], "nice": false},
      "axis": {"values": [30,54.77,100,173.2,300], "labels": false, "ticks": false, "title": null,
        "gridWidth": {"condition": {"test": "indexof([30,100,300], datum.value) >= 0", "value": 1.1}, "value": 0.55}}},
    "y2": {"field": "hi"}}},
  {"data": {"name": "bandA"},
   "mark": {"type": "area", "color": "#1a2ac0", "opacity": 0.25},
   "encoding": {"x": {"field": "kg", "type": "quantitative"}, "y": {"field": "lo", "type": "quantitative"}, "y2": {"field": "hi"}}},
  {"data": {"name": "obsA"},
   "mark": {"type": "point", "filled": true, "size": 20, "opacity": 0.85},
   "encoding": {"x": {"field": "kg", "type": "quantitative"}, "y": {"field": "auc", "type": "quantitative"},
    "color": {"field": "ind", "type": "nominal"}}},
  {"data": {"name": "medA"},
   "mark": {"type": "line", "color": "#e31a1c", "strokeWidth": 4},
   "encoding": {"x": {"field": "kg", "type": "quantitative"}, "y": {"field": "med", "type": "quantitative"}}},
  {"data": {"name": "rug"},
   "mark": {"type": "tick", "orient": "vertical", "color": "#ffd400", "thickness": 3, "size": 8, "opacity": 1},
   "encoding": {"x": {"field": "kg", "type": "quantitative"}, "y": {"value": "height"}, "yOffset": {"value": -4}}}
 ]}
]}
],
"config": {
 "font": "Liberation Sans",
 "view": {"stroke": "#333333", "strokeWidth": 1.1},
 "axis": {"domain": false, "grid": true, "gridColor": "#ebebeb", "tickColor": "#333333", "tickSize": 4, "tickWidth": 1.1, "labelColor": "#4d4d4d", "labelFontSize": 16.5, "labelPadding": 4, "titleFontSize": 20, "titleFontWeight": "normal", "titleColor": "#000000", "titlePadding": 2},
 "legend": {"titleFontSize": 20.5, "titleFontWeight": "normal", "titleColor": "#000000", "titleLimit": 500, "labelFontSize": 16, "labelColor": "#000000", "labelLimit": 500, "symbolType": "circle", "symbolSize": 22, "symbolStrokeWidth": 0, "columnPadding": 28, "titlePadding": 17, "labelOffset": 13}
}
}
